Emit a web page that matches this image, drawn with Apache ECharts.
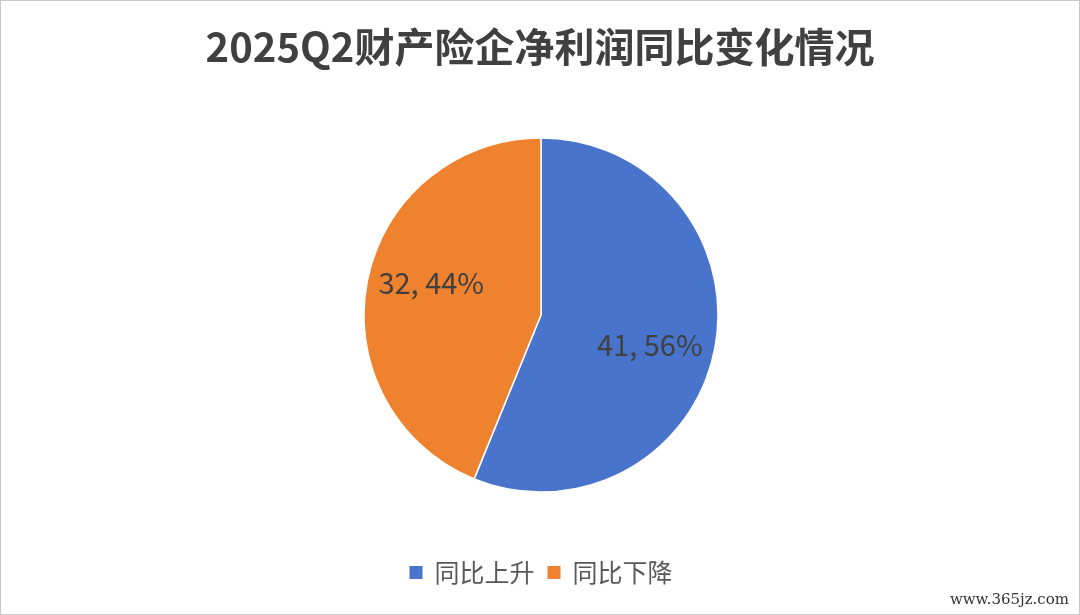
<!DOCTYPE html>
<html>
<head>
<meta charset="utf-8">
<script src="https://cdn.jsdelivr.net/npm/echarts@6/dist/echarts.min.js"></script>
<style>
    html, body { margin: 0; padding: 0; background: #fff; }
    #pie { width: 1080px; height: 615px; box-sizing: border-box; border: 1px solid #c8c8c8; }
</style>
</head>
<body>
<div id="pie"></div>
<script>
// data
var titleText = '2025Q2财产险企净利润同比变化情况';
var categories = ['同比上升', '同比下降'];
var counts = [41, 32];
var colors = ['#4874CB', '#EE822F'];
// label nudges (Excel puts data labels a bit further out than echarts' 'inside')
var labelShift = [[19, 12], [-20, -14]];

function drawPie() {
    var chart = echarts.init(document.getElementById('pie'));
    var total = counts.reduce(function (a, b) { return a + b; }, 0);
    var pieData = [];
    for (var i = 0; i < categories.length; i++) {
        pieData.push({
            name: categories[i],
            value: counts[i],
            itemStyle: {color: colors[i]}
        });
    }
    chart.setOption({
        animation: false,
        title: {
            text: titleText,
            left: 'center',
            top: 21,
            textStyle: {
                fontFamily: 'Noto Sans CJK SC',
                fontWeight: 'bold',
                fontSize: 40,
                color: '#404040'
            }
        },
        legend: {
            data: categories,
            bottom: 24,
            left: 'center',
            icon: 'rect',
            itemWidth: 15,
            itemHeight: 15,
            itemGap: 11,
            textStyle: {
                fontFamily: 'Noto Sans CJK SC',
                fontSize: 25,
                color: '#595959',
                padding: [0, 0, 0, 6]
            }
        },
        graphic: [{
            type: 'text',
            right: 10,
            bottom: 6,
            style: {
                text: 'www.365jz.com',
                font: '15px "DejaVu Serif"',
                fill: '#333'
            }
        }],
        series: [{
            type: 'pie',
            center: [540, 314],
            radius: 177,
            startAngle: 90,
            clockwise: true,
            avoidLabelOverlap: false,
            itemStyle: {borderColor: '#fff', borderWidth: 1.5},
            label: {
                show: true,
                position: 'inside',
                fontFamily: 'Noto Sans CJK SC',
                fontSize: 29,
                color: '#404040',
                formatter: function (p) {
                    return p.value + ', ' + Math.round(p.value / total * 100) + '%';
                }
            },
            labelLayout: function (p) {
                var s = labelShift[p.dataIndex];
                return {dx: s[0], dy: s[1]};
            },
            emphasis: {disabled: true},
            data: pieData
        }]
    });
}

drawPie();
</script>
</body>
</html>
